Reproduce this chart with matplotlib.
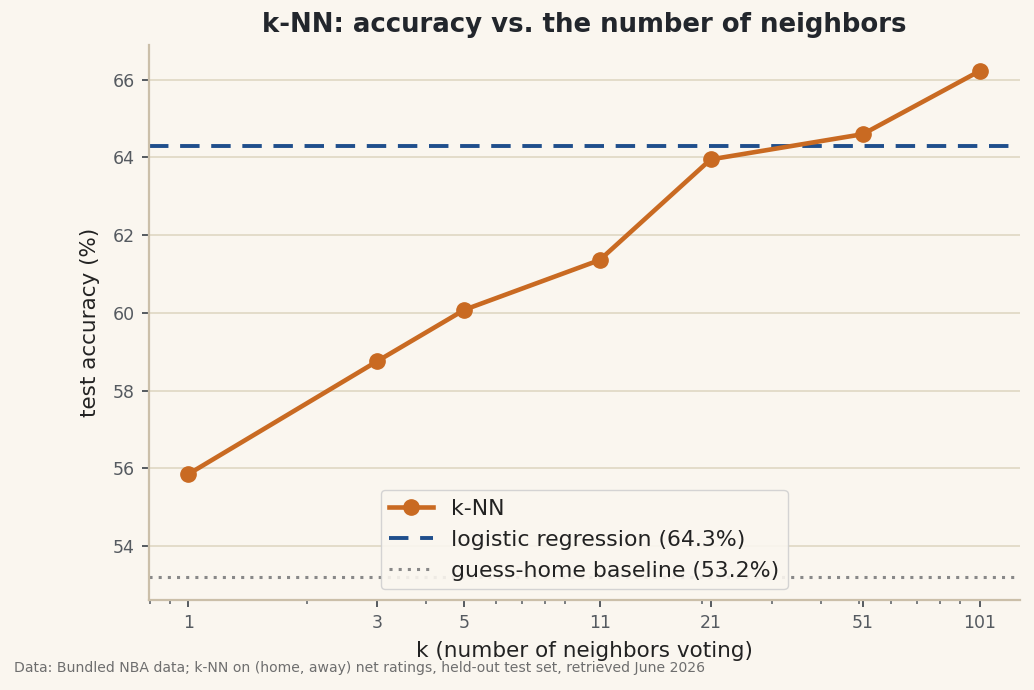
import matplotlib
matplotlib.use("Agg")
import matplotlib.pyplot as plt
from matplotlib.ticker import FixedLocator, NullFormatter, LogLocator

# data
k_values = [1, 3, 5, 11, 21, 51, 101]
knn_acc = [55.85, 58.75, 60.08, 61.36, 63.95, 64.6, 66.23]
logreg_acc = 64.3
baseline_acc = 53.2

bg = "#faf6ef"
fig = plt.figure(figsize=(10.34, 6.9), dpi=100, facecolor=bg)
ax = fig.add_axes([0.144, 0.130, 0.842, 0.805], facecolor=bg)

ax.plot(k_values, knn_acc, color="#c96a22", lw=3.3, marker="o", ms=11, label="k-NN", zorder=3)
ax.axhline(logreg_acc, color="#1f4e8c", lw=2.8, ls=(0, (5, 3)),
           label=f"logistic regression ({logreg_acc}%)", zorder=2)
ax.axhline(baseline_acc, color="#888888", lw=2.2, ls=(0, (1, 2)),
           label=f"guess-home baseline ({baseline_acc}%)", zorder=2)

ax.set_xscale("log")
ax.xaxis.set_major_locator(FixedLocator(k_values))
ax.set_xticklabels([str(k) for k in k_values])
ax.xaxis.set_minor_locator(LogLocator(base=10, subs=range(2, 10)))
ax.xaxis.set_minor_formatter(NullFormatter())
ax.set_ylim(52.6, 66.9)
ax.set_yticks([54, 56, 58, 60, 62, 64, 66])

ax.grid(axis="y", color="#ddd5c0", lw=1.1)
ax.set_axisbelow(True)
for s in ["top", "right"]:
    ax.spines[s].set_visible(False)
for s in ["left", "bottom"]:
    ax.spines[s].set_color("#cbbfa9")
    ax.spines[s].set_linewidth(1.6)
ax.tick_params(axis="both", colors="#555a60", labelsize=12.5, length=5, width=1.4, pad=5)
ax.tick_params(axis="x", which="minor", colors="#555a60", length=3, width=1.1)

ax.set_xlabel("k (number of neighbors voting)", fontsize=15.5, color="#222222", labelpad=6)
ax.set_ylabel("test accuracy (%)", fontsize=15.5, color="#222222", labelpad=9)
ax.set_title("k-NN: accuracy vs. the number of neighbors", fontsize=18.7,
             fontweight="bold", color="#22262c", pad=9)

leg = ax.legend(loc="lower center", fontsize=15.8, frameon=True, facecolor=bg,
                edgecolor="#d0d0d0", framealpha=0.9, borderpad=0.4,
                handlelength=2.0, labelspacing=0.5, bbox_to_anchor=(0.5, 0.0))
for t in leg.get_texts():
    t.set_color("#222222")

fig.text(0.0135, 0.026, "Data: Bundled NBA data; k-NN on (home, away) net ratings, "
         "held-out test set, retrieved June 2026", fontsize=10.1, color="#6e6e6e")

fig.savefig("out.png", dpi=100, facecolor=bg)
